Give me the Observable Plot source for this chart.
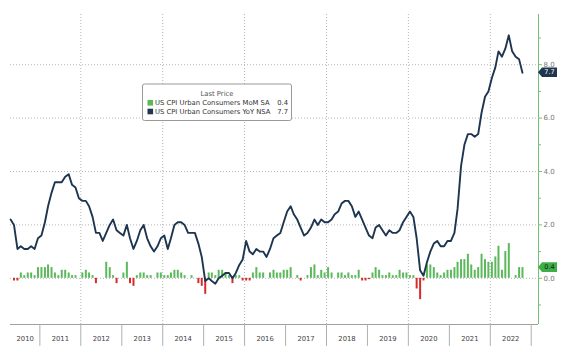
<!DOCTYPE html>
<html><head><meta charset="utf-8">
<script src="https://cdn.jsdelivr.net/npm/d3@7"></script>
<script src="https://cdn.jsdelivr.net/npm/@observablehq/plot@0.6"></script>
<style>
body{margin:0;background:#fff;}
#chart{width:570px;height:354px;}
</style>
</head><body><div id="chart"></div>
<script>
// First observation: April 2010, monthly through October 2022
const startYear = 2010, startMonth = 3;

// US CPI Urban Consumers YoY NSA (%)
const yoy = [
  2.2, 2.0, 1.1, 1.2, 1.1, 1.1, 1.2, 1.1, 1.5,
  1.6, 2.1, 2.7, 3.2, 3.6, 3.6, 3.6, 3.8, 3.9, 3.5, 3.4, 3.0,
  2.9, 2.9, 2.7, 2.3, 1.7, 1.7, 1.4, 1.7, 2.0, 2.2, 1.8, 1.7,
  1.6, 2.0, 1.5, 1.1, 1.4, 1.8, 2.0, 1.5, 1.2, 1.0, 1.2, 1.5,
  1.6, 1.1, 1.5, 2.0, 2.1, 2.1, 2.0, 1.7, 1.7, 1.7, 1.3, 0.8,
  -0.1, 0.0, -0.1, -0.2, 0.0, 0.1, 0.2, 0.2, 0.0, 0.2, 0.5, 0.7,
  1.4, 1.0, 0.9, 1.1, 1.0, 1.0, 0.8, 1.1, 1.5, 1.6, 1.7, 2.1,
  2.5, 2.7, 2.4, 2.2, 1.9, 1.6, 1.7, 1.9, 2.2, 2.0, 2.2, 2.1,
  2.1, 2.2, 2.4, 2.5, 2.8, 2.9, 2.9, 2.7, 2.3, 2.5, 2.2, 1.9,
  1.6, 1.5, 1.9, 2.0, 1.8, 1.6, 1.8, 1.7, 1.7, 1.8, 2.1, 2.3,
  2.5, 2.3, 1.5, 0.3, 0.1, 0.6, 1.0, 1.3, 1.4, 1.2, 1.2, 1.4,
  1.4, 1.7, 2.6, 4.2, 5.0, 5.4, 5.4, 5.3, 5.4, 6.2, 6.8, 7.0,
  7.5, 7.9, 8.5, 8.3, 8.6, 9.1, 8.5, 8.3, 8.2, 7.7
];

// US CPI Urban Consumers MoM SA (%)
const mom = [
  0.0, -0.1, -0.1, 0.2, 0.1, 0.2, 0.2, 0.1, 0.4,
  0.4, 0.4, 0.5, 0.4, 0.2, 0.1, 0.3, 0.3, 0.2, 0.1, 0.1, 0.0,
  0.2, 0.3, 0.2, 0.1, -0.2, 0.0, 0.0, 0.6, 0.4, 0.1, -0.2, 0.0,
  0.2, 0.6, -0.2, -0.3, 0.1, 0.2, 0.2, 0.1, 0.1, 0.0, 0.2, 0.2,
  0.1, 0.1, 0.2, 0.3, 0.3, 0.2, 0.1, 0.0, 0.1, 0.0, -0.2, -0.3,
  -0.6, 0.2, 0.2, 0.1, 0.3, 0.3, 0.2, 0.1, -0.2, 0.1, 0.1, -0.1,
  -0.1, -0.1, 0.2, 0.4, 0.2, 0.2, 0.0, 0.2, 0.3, 0.2, 0.2, 0.3,
  0.3, 0.4, 0.0, 0.1, -0.1, 0.0, 0.1, 0.4, 0.5, 0.1, 0.3, 0.2,
  0.4, 0.2, 0.0, 0.2, 0.2, 0.1, 0.2, 0.1, 0.1, 0.3, -0.1, -0.1,
  -0.05, 0.2, 0.4, 0.3, 0.1, 0.1, 0.2, 0.1, 0.1, 0.3, 0.2, 0.2,
  0.1, 0.1, -0.4, -0.8, -0.1, 0.5, 0.5, 0.4, 0.2, 0.1, 0.2, 0.3,
  0.3, 0.4, 0.6, 0.7, 0.7, 0.9, 0.5, 0.3, 0.4, 0.9, 0.7, 0.6,
  0.6, 0.8, 1.2, 0.3, 1.0, 1.3, 0.0, 0.1, 0.4, 0.4
];

const yearLabels = [2010, 2011, 2012, 2013, 2014, 2015, 2016, 2017, 2018, 2019, 2020, 2021, 2022];
const separatorYears = [2011, 2012, 2013, 2014, 2015, 2016, 2017, 2018, 2019, 2020, 2021, 2022, 2023];
const gridYears = [2012, 2014, 2016, 2018, 2020, 2022];
const rightTicks = [0, 2, 4, 6, 8];
const minorTicks = [-1, 1, 3, 5, 7, 9];
const legendTitle = "Last Price";
const seriesNames = ["US CPI Urban Consumers MoM SA", "US CPI Urban Consumers YoY NSA"];
const lastValues = ["0.4", "7.7"];
const lastNumbers = [0.4, 7.7];

const GREEN = "#5cb85c", RED = "#d62b2b", NAVY = "#1e3550", AXISGREEN = "#72c172";
const FONT = "DejaVu Sans";

const mdate = i => new Date(Date.UTC(startYear, startMonth + i, 15));
const yoyData = yoy.map((v, i) => ({date: mdate(i), v}));
const momData = mom.map((v, i) => ({date: mdate(i), v}));

const xDomain = [new Date(Date.UTC(2010, 3, 14)), new Date(Date.UTC(2023, 2, 7))];
const yDomain = [-1.73, 9.88];
const jan = y => new Date(Date.UTC(y, 0, 1));
const labelDates = yearLabels.map(y => {
  const a = Math.max(+jan(y), +xDomain[0]);
  const b = +jan(y + 1);
  return new Date((a + b) / 2);
});

const W = 570, H = 354, mL = 10, mR = 32, mT = 14, mB = 30;

const plot = Plot.plot({
  width: W, height: H,
  marginLeft: mL, marginRight: mR, marginTop: mT, marginBottom: mB,
  style: {fontFamily: FONT, fontSize: "6.8px", background: "#fff", overflow: "visible"},
  x: {type: "utc", domain: xDomain, axis: null},
  y: {domain: yDomain, axis: null},
  marks: [
    Plot.ruleY(rightTicks, {stroke: "#b5b5b5", strokeDasharray: "1,2"}),
    Plot.ruleX(gridYears.map(jan), {stroke: "#b5b5b5", strokeDasharray: "1,2"}),
    Plot.ruleY([yDomain[0]], {stroke: "#a0a0a0"}),
    Plot.ruleX(separatorYears.map(jan), {y1: yDomain[0], y2: -2.55, stroke: "#b0b0b0"}),
    Plot.axisX(labelDates, {tickSize: 0, tickPadding: 12, label: null, tickFormat: d => String(d.getUTCFullYear()), fill: "#444", fontSize: 6.8}),
    Plot.ruleX([xDomain[1]], {stroke: AXISGREEN}),
    Plot.axisY(minorTicks, {anchor: "right", tickSize: 2, label: null, tickFormat: () => "", stroke: AXISGREEN}),
    Plot.axisY(rightTicks, {anchor: "right", tickSize: 3, tickPadding: 2, label: null, tickFormat: d3.format(".1f"), stroke: AXISGREEN, fill: "#777", fontSize: 7}),
    Plot.ruleX(momData, {x: "date", y1: 0, y2: "v", stroke: d => d.v < 0 ? RED : GREEN, strokeWidth: 2}),
    Plot.line(yoyData, {x: "date", y: "v", stroke: NAVY, strokeWidth: 1.9, strokeLinejoin: "round"})
  ]
});

document.getElementById("chart").appendChild(plot);

// Last-value tags on the right axis, positioned with the plot's own scales
const svg = d3.select(plot);
const ys = plot.scale("y");
const xr = W - mR;
const tagColors = [{fill: "#3fae49", text: "#10260f"}, {fill: NAVY, text: "#fff"}];
lastNumbers.forEach((v, i) => {
  const cy = ys.apply(v);
  const h = 4.8;
  const g = svg.append("g");
  g.append("path")
    .attr("d", `M${xr},${cy} L${xr + 4},${cy - h} L${xr + 19},${cy - h} L${xr + 19},${cy + h} L${xr + 4},${cy + h} Z`)
    .attr("fill", tagColors[i].fill);
  g.append("text").attr("x", xr + 11.5).attr("y", cy).attr("dy", "0.35em")
    .attr("text-anchor", "middle").attr("fill", tagColors[i].text)
    .attr("font-family", FONT).attr("font-size", 6.5).text(lastValues[i]);
});

// Legend box
const lg = svg.append("g").attr("font-family", FONT).attr("font-size", 6.8).attr("text-anchor", "start");
lg.append("rect").attr("x", 142.5).attr("y", 84).attr("width", 149).attr("height", 36.5)
  .attr("rx", 2).attr("fill", "#fff").attr("stroke", "#999").attr("stroke-width", 1);
lg.append("text").attr("x", 217).attr("y", 93.5).attr("dy", "0.35em").attr("text-anchor", "middle")
  .attr("fill", "#555").text(legendTitle);
const rowY = [102.8, 111.5];
const swatch = [GREEN, NAVY];
seriesNames.forEach((s, i) => {
  lg.append("rect").attr("x", 147.5).attr("y", rowY[i] - 2.8).attr("width", 5.6).attr("height", 5.6).attr("fill", swatch[i]);
  lg.append("text").attr("x", 155).attr("y", rowY[i]).attr("dy", "0.35em").attr("text-anchor", "start").attr("fill", "#333").text(s);
  lg.append("text").attr("x", 288).attr("y", rowY[i]).attr("dy", "0.35em").attr("text-anchor", "end").attr("fill", "#333").text(lastValues[i]);
});
</script>
</body></html>
